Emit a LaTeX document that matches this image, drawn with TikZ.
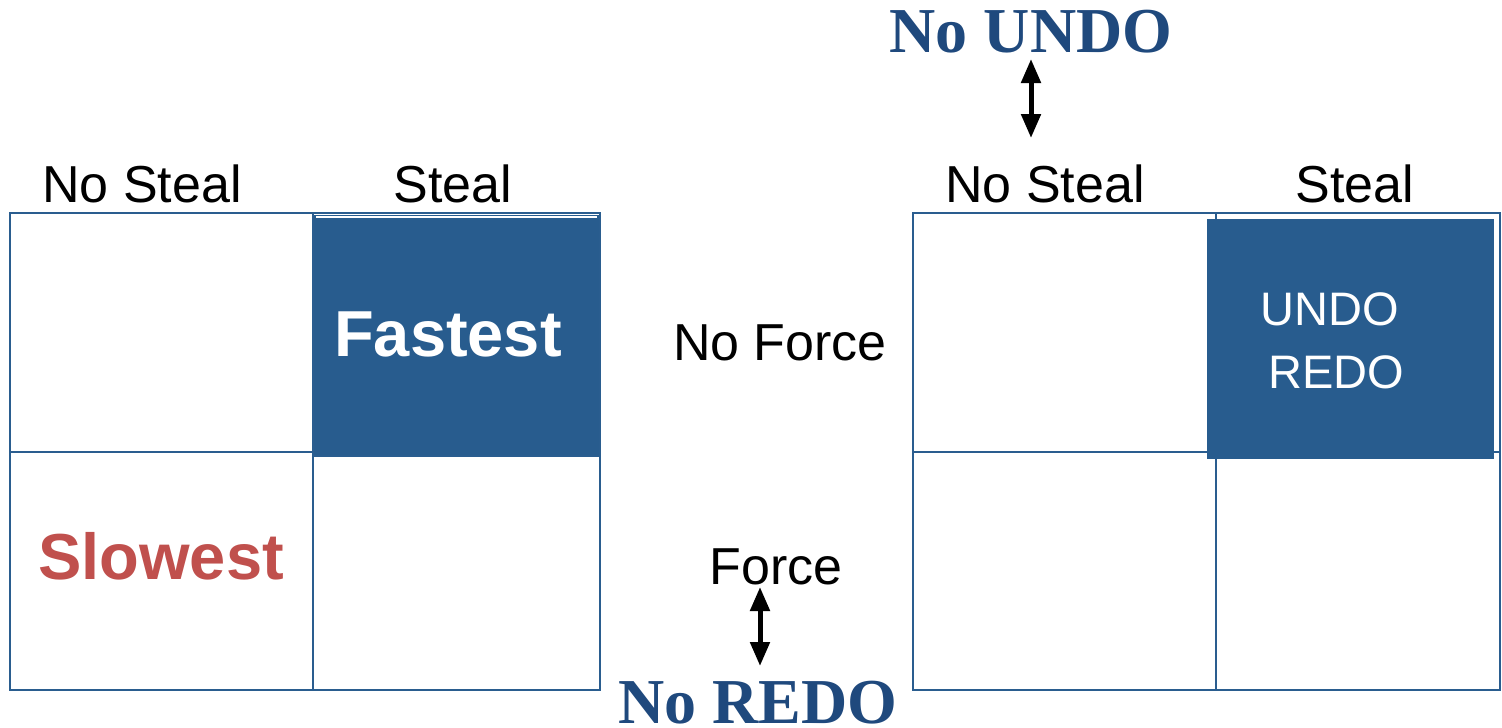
\documentclass[tikz,border=0pt]{standalone}
\usepackage{fontspec}
\setmainfont{Liberation Sans}
\newfontfamily\serifbold{Liberation Serif}
\usetikzlibrary{arrows.meta}
\definecolor{gridblue}{HTML}{2A5D8F}
\definecolor{fillblue}{HTML}{285C8E}
\definecolor{titleblue}{HTML}{1F497D}
\definecolor{slowred}{HTML}{C0504D}
\begin{document}
\begin{tikzpicture}[x=1pt,y=-1pt,
  gridline/.style={draw=gridblue,line width=2.8pt},
  cellfill/.style={fill=fillblue,draw=none},
  headtxt/.style={font=\fontsize{52}{60}\selectfont,inner sep=0pt,anchor=base},
  bigtxt/.style={font=\fontsize{65}{78}\selectfont\bfseries,inner sep=0pt,anchor=base},
  celltxt/.style={font=\fontsize{47}{56}\selectfont,text=white,inner sep=0pt,anchor=base},
  undotxt/.style={font=\fontsize{64}{72}\serifbold\bfseries,text=titleblue,inner sep=0pt,anchor=base},
  dblarrow/.style={line width=5pt,{Triangle[length=24pt,width=19pt]}-{Triangle[length=24pt,width=19pt]}}]
\useasboundingbox (0,0) rectangle (1502,728);
% left grid
\fill[cellfill] (312,215) rectangle (600,456);
\draw[gridline] (10,213) rectangle (600,690);
\draw[gridline] (313,213) -- (313,690);
\draw[gridline] (10,452) -- (313,452);
\draw[gridline] (313,456) -- (600,456);
\draw[white,line width=1.5pt] (316,217) -- (597,217);
% right grid
\draw[gridline] (913,213) rectangle (1500,690);
\draw[gridline] (1216,213) -- (1216,690);
\draw[gridline] (913,452) -- (1500,452);
\fill[cellfill] (1207,219) rectangle (1494,459);
% column headers
\node[headtxt] (ns1) at (142,202) {No Steal};
\node[headtxt] (s1) at (453,202) {Steal};
\node[headtxt] (ns2) at (1045,202) {No Steal};
\node[headtxt] (s2) at (1355,202) {Steal};
% row labels
\node[headtxt] (nf) at (780,360) {No Force};
\node[headtxt] (f) at (776,584) {Force};
% cell texts
\node[bigtxt,text=white] (fast) at (448,356) {Fastest};
\node[bigtxt,text=slowred] (slow) at (161,579) {Slowest};
\node[celltxt] (undo) at (1330,325) {UNDO};
\node[celltxt] (redo) at (1336,388) {REDO};
% titles
\node[undotxt] (noundo) at (1031,52) {No UNDO};
\node[undotxt] (noredo) at (758,723) {No REDO};
% arrows
\coordinate (a1) at (1031,59);
\coordinate (a2) at (1031,138);
\coordinate (b1) at (760,587);
\coordinate (b2) at (760,666);
\draw[dblarrow] (a1) -- (a2);
\draw[dblarrow] (b1) -- (b2);
\end{tikzpicture}
\end{document}
